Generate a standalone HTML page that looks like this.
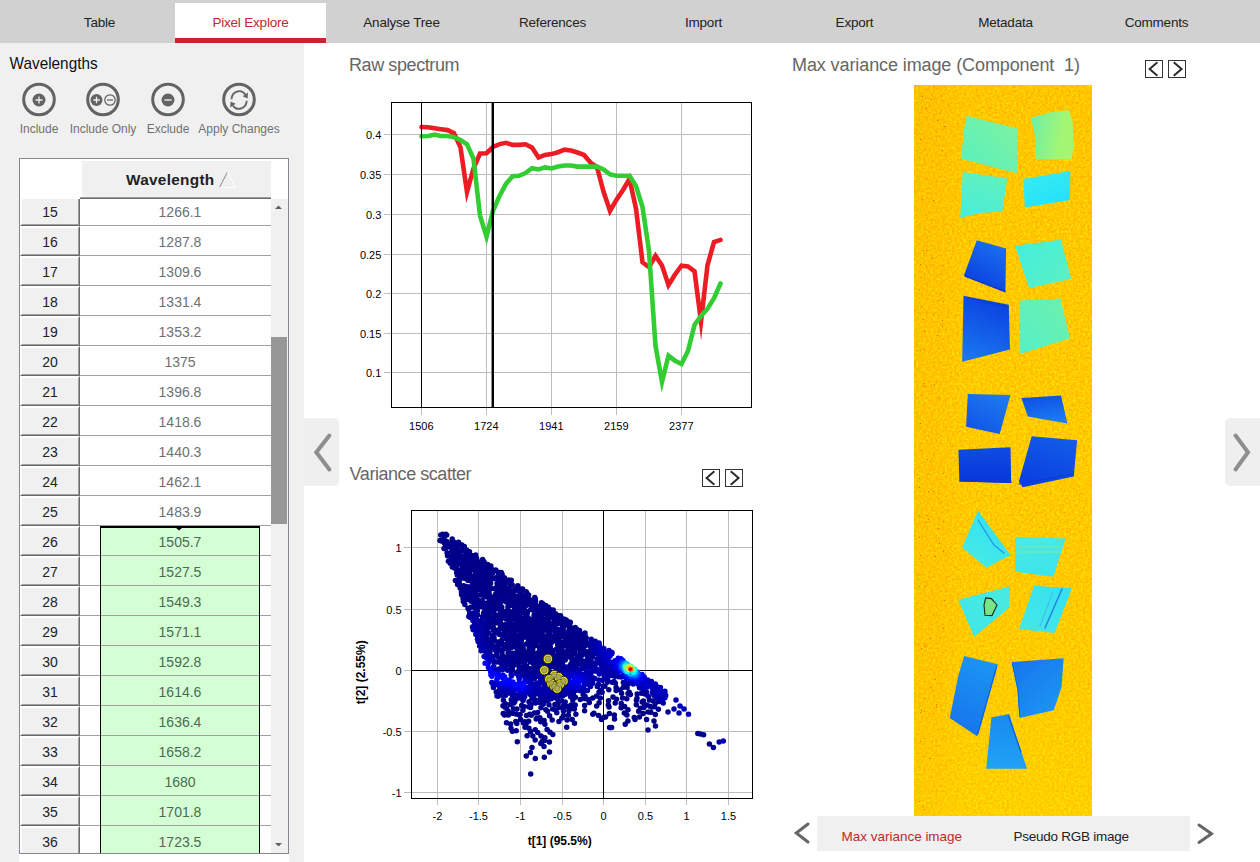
<!DOCTYPE html>
<html lang="en"><head><meta charset="utf-8"><title>Pixel Explore</title>
<style>
html,body{margin:0;padding:0}
body{width:1260px;height:862px;position:relative;overflow:hidden;background:#fff;
 font-family:"Liberation Sans",sans-serif;color:#222}
.a{position:absolute}
#tabbar{left:0;top:0;width:1260px;height:43px;background:#d1d1d1}
.tab{position:absolute;top:3px;height:40px;width:151px;text-align:center;font-size:13.5px;line-height:40px;color:#222;letter-spacing:-.2px}
.tab.on{background:#fff;color:#c4262e;border-bottom:5px solid #c4262e;height:35px;line-height:40px}
#side{left:0;top:43px;width:304px;height:819px;background:#f0f0f0}
#sidewhite{left:19px;top:854px;width:270px;height:8px;background:#fff}
.h1{position:absolute;font-size:17.33px;color:#666;white-space:nowrap;line-height:20px}
.lbl{position:absolute;font-size:12px;color:#707070;white-space:nowrap;line-height:14px;text-align:center}
#tbl{left:19px;top:158px;width:270px;height:696px;box-sizing:border-box;border:1px solid #828790;background:#fff;overflow:hidden}
.rh{position:absolute;left:0;width:60px;height:30px;box-sizing:border-box;border:1px solid;border-color:#fff #696969 #696969 #fff}
.rh i{display:block;box-sizing:border-box;width:58px;height:28px;border:1px solid;border-color:#fff #a0a0a0 #a0a0a0 #fff;background:#f0f0f0;
 font-style:normal;font-size:14px;line-height:29px;text-align:center;color:#222}
.c{position:absolute;left:60px;width:200px;height:30px;box-sizing:border-box;border-bottom:1px solid #a0a0a0;font-size:14px;line-height:33px;text-align:center;color:#707070}
.g{color:#4e6a4e}
#gbox{left:80px;top:367px;width:160px;height:340px;box-sizing:border-box;background:#d4ffd4;border:1px solid #000;border-top:2px solid #000}
#colh{left:62px;top:2px;width:189px;height:36px;background:#f0f0f0;font-weight:bold;font-size:15.33px;line-height:38px;color:#222}
#sb{left:251px;top:40px;width:17px;height:660px;background:#f0f0f0}
#thumb{left:251px;top:178px;width:16px;height:187px;background:#979797}
#strip{left:817px;top:816px;width:373px;height:35px;background:#f0f0f0}
.st{position:absolute;font-size:13.33px;line-height:16px;white-space:nowrap}
.hd{position:absolute;width:35px;height:68px;background:#efefef;top:418px}
</style></head><body>

<div id="tabbar" class="a">
<div class="tab" style="left:24px">Table</div>
<div class="tab on" style="left:175px">Pixel Explore</div>
<div class="tab" style="left:326px">Analyse Tree</div>
<div class="tab" style="left:477px">References</div>
<div class="tab" style="left:628px">Import</div>
<div class="tab" style="left:779px">Export</div>
<div class="tab" style="left:930px">Metadata</div>
<div class="tab" style="left:1081px">Comments</div>
</div>
<div id="side" class="a"></div><div id="sidewhite" class="a"></div>
<svg class="a" style="left:0;top:48px" width="200" height="30" viewBox="0 48 200 30"><text x="9.6" y="68.7" font-size="17" fill="#111" textLength="88" lengthAdjust="spacingAndGlyphs">Wavelengths</text></svg>
<div class="lbl" style="left:-21px;width:120px;top:122px">Include</div>
<div class="lbl" style="left:43px;width:120px;top:122px">Include Only</div>
<div class="lbl" style="left:108px;width:120px;top:122px">Exclude</div>
<div class="lbl" style="left:179px;width:120px;top:122px">Apply Changes</div>
<div id="tbl" class="a">
<div id="gbox" class="a"></div>
<div class="rh" style="top:37px"><i>15</i></div><div class="c" style="top:37px">1266.1</div>
<div class="rh" style="top:67px"><i>16</i></div><div class="c" style="top:67px">1287.8</div>
<div class="rh" style="top:97px"><i>17</i></div><div class="c" style="top:97px">1309.6</div>
<div class="rh" style="top:127px"><i>18</i></div><div class="c" style="top:127px">1331.4</div>
<div class="rh" style="top:157px"><i>19</i></div><div class="c" style="top:157px">1353.2</div>
<div class="rh" style="top:187px"><i>20</i></div><div class="c" style="top:187px">1375</div>
<div class="rh" style="top:217px"><i>21</i></div><div class="c" style="top:217px">1396.8</div>
<div class="rh" style="top:247px"><i>22</i></div><div class="c" style="top:247px">1418.6</div>
<div class="rh" style="top:277px"><i>23</i></div><div class="c" style="top:277px">1440.3</div>
<div class="rh" style="top:307px"><i>24</i></div><div class="c" style="top:307px">1462.1</div>
<div class="rh" style="top:337px"><i>25</i></div><div class="c" style="top:337px">1483.9</div>
<div class="rh" style="top:367px"><i>26</i></div><div class="c g" style="top:367px">1505.7</div>
<div class="rh" style="top:397px"><i>27</i></div><div class="c g" style="top:397px">1527.5</div>
<div class="rh" style="top:427px"><i>28</i></div><div class="c g" style="top:427px">1549.3</div>
<div class="rh" style="top:457px"><i>29</i></div><div class="c g" style="top:457px">1571.1</div>
<div class="rh" style="top:487px"><i>30</i></div><div class="c g" style="top:487px">1592.8</div>
<div class="rh" style="top:517px"><i>31</i></div><div class="c g" style="top:517px">1614.6</div>
<div class="rh" style="top:547px"><i>32</i></div><div class="c g" style="top:547px">1636.4</div>
<div class="rh" style="top:577px"><i>33</i></div><div class="c g" style="top:577px">1658.2</div>
<div class="rh" style="top:607px"><i>34</i></div><div class="c g" style="top:607px">1680</div>
<div class="rh" style="top:637px"><i>35</i></div><div class="c g" style="top:637px">1701.8</div>
<div class="rh" style="top:667px"><i>36</i></div><div class="c g" style="top:667px">1723.5</div>
<div class="a" style="left:80px;top:367px;width:1px;height:340px;background:#000"></div><div class="a" style="left:239px;top:367px;width:1px;height:340px;background:#000"></div>
<div class="a" style="left:0;top:0;width:268px;height:38px;background:#fff"></div>
<div id="colh" class="a"><span style="position:absolute;left:44px;letter-spacing:.3px">Wavelength</span></div>
<div class="a" style="left:60px;top:38px;width:191px;height:1px;background:#a0a0a0"></div><div class="a" style="left:60px;top:39px;width:191px;height:1px;background:#696969"></div>
<div class="a" style="left:0;top:38px;width:60px;height:2px;background:#fff"></div>
<div id="sb" class="a"></div><div id="thumb" class="a"></div>
<svg class="a" style="left:0;top:0" width="268" height="694" viewBox="20 159 268 694">
<path d="M219.5 187.5L227.5 172" stroke="#8a8a8a" stroke-width="1" fill="none"/><path d="M227.5 172L235.5 187.5H219.5" stroke="#fff" stroke-width="1" fill="none"/>
<path d="M275 209L278.5 205.5 282 209Z" fill="#606060"/><path d="M275 843L278.5 846.5 282 843Z" fill="#606060"/>
<path d="M175 527H183L179 530.5Z" fill="#000"/>
</svg>
</div>
<div class="hd" style="left:304px;border-radius:0 5px 5px 0"></div><div class="hd" style="left:1225px;border-radius:5px 0 0 5px"></div>
<div id="strip" class="a"></div>
<svg class="a" style="left:0;top:0" width="1260" height="862" viewBox="0 0 1260 862" font-family='"Liberation Sans", sans-serif'>
<defs>
<filter id="nz" x="0" y="0" width="100%" height="100%" color-interpolation-filters="sRGB">
<feTurbulence type="fractalNoise" baseFrequency="0.42" numOctaves="2" seed="4"/>
<feColorMatrix values="0 0 0 0 1  0.36 0 0 0 0.62  0 0 0 0 0  0 0 0 0 1"/><feGaussianBlur stdDeviation="0.5"/>
</filter>
<linearGradient id="bgv" x1="0" y1="0" x2="0" y2="1"><stop offset="0" stop-color="#ff9000" stop-opacity=".10"/><stop offset=".5" stop-color="#ffa000" stop-opacity=".03"/><stop offset="1" stop-color="#ffe400" stop-opacity=".22"/></linearGradient>
<linearGradient id="bgh" x1="0" y1="0" x2="1" y2="0"><stop offset="0" stop-color="#ff8000" stop-opacity=".08"/><stop offset=".14" stop-color="#ff8000" stop-opacity=".07"/><stop offset=".3" stop-color="#ff9000" stop-opacity="0"/></linearGradient>
</defs>
<g font-size="18" fill="#666">
<text x="349" y="71" textLength="110.5">Raw spectrum</text>
<text x="349.6" y="479.5" textLength="122">Variance scatter</text>
<text x="792" y="71" xml:space="preserve" textLength="288">Max variance image (Component  1)</text>
</g>
<g>
<circle cx="39" cy="99.5" r="15.3" fill="none" stroke="#636363" stroke-width="3"/><circle cx="39" cy="100.0" r="6.5" fill="#636363"/><path d="M35.5 100.0h7M39 96.5v7" stroke="#f0f0f0" stroke-width="1.3"/>
<circle cx="103" cy="99.5" r="15.3" fill="none" stroke="#636363" stroke-width="3"/><circle cx="96.5" cy="100.0" r="6" fill="#636363"/><path d="M93.3 100.0h6.4M96.5 96.8v6.4" stroke="#f0f0f0" stroke-width="1.3"/><circle cx="110" cy="100.0" r="5.2" fill="#f0f0f0" stroke="#636363" stroke-width="1.3"/><path d="M107 100.0h6" stroke="#636363" stroke-width="1.3"/>
<circle cx="168" cy="99.5" r="15.3" fill="none" stroke="#636363" stroke-width="3"/><circle cx="168" cy="100.0" r="6.5" fill="#636363"/><path d="M164.5 100.0h7" stroke="#f0f0f0" stroke-width="1.4"/>
<circle cx="239" cy="99.5" r="15.3" fill="none" stroke="#636363" stroke-width="3"/><g fill="none" stroke="#636363" stroke-width="1.8" stroke-linecap="butt"><path d="M231.5 99.2A7.7 8.3 0 0 1 245.4 94.6"/><path d="M246.7 100.8A7.7 8.3 0 0 1 232.8 105.4"/></g><path d="M242.6 96.2L248 92.4 247.6 98.6Z" fill="#636363"/><path d="M235.6 103.8L230.2 107.6 230.6 101.4Z" fill="#636363"/>
</g>
<g fill="none" stroke="#8e8e8e" stroke-width="4" stroke-linecap="round" stroke-linejoin="miter"><path d="M329.4 435.5L316.3 452.3 329.4 469.5"/><path d="M1235.5 435.5L1248 452.3 1235.5 469.5"/></g>
<g fill="none" stroke="#666" stroke-width="3" stroke-linecap="round" stroke-linejoin="miter"><path d="M808 824L796.3 833 808 842"/><path d="M1199 825L1211.5 833.7 1199 842.5"/></g>
<text x="841.6" y="840.7" font-size="13.5" fill="#c4262e" textLength="120.5">Max variance image</text>
<text x="1013.6" y="840.7" font-size="13.5" fill="#222" textLength="115.5">Pseudo RGB image</text>
<rect x="702.5" y="469.5" width="17" height="17" fill="#fff" stroke="#333" stroke-width="1"/><rect x="725.5" y="469.5" width="17" height="17" fill="#fff" stroke="#333" stroke-width="1"/><path d="M714.4 471.2L706.6 477.9 714.4 484.8M730.7 471.2L738.6 477.9 730.7 484.8" fill="none" stroke="#2a2a2a" stroke-width="2"/>
<rect x="1145.5" y="60.5" width="17" height="17" fill="#fff" stroke="#333" stroke-width="1"/><rect x="1168.5" y="60.5" width="17" height="17" fill="#fff" stroke="#333" stroke-width="1"/><path d="M1157.4 62.2L1149.6 68.9 1157.4 75.8M1173.7 62.2L1181.6 68.9 1173.7 75.8" fill="none" stroke="#2a2a2a" stroke-width="2"/>
<g shape-rendering="crispEdges">
<rect x="486" y="103" width="1" height="312" fill="#bdbdbd"/>
<rect x="551" y="103" width="1" height="312" fill="#bdbdbd"/>
<rect x="616" y="103" width="1" height="312" fill="#bdbdbd"/>
<rect x="681" y="103" width="1" height="312" fill="#bdbdbd"/>
<rect x="421" y="408" width="1" height="7" fill="#bdbdbd"/>
<rect x="384" y="134" width="367" height="1" fill="#bdbdbd"/>
<rect x="384" y="174" width="367" height="1" fill="#bdbdbd"/>
<rect x="384" y="214" width="367" height="1" fill="#bdbdbd"/>
<rect x="384" y="254" width="367" height="1" fill="#bdbdbd"/>
<rect x="384" y="293" width="367" height="1" fill="#bdbdbd"/>
<rect x="384" y="333" width="367" height="1" fill="#bdbdbd"/>
<rect x="384" y="372" width="367" height="1" fill="#bdbdbd"/>
</g>
<polyline points="421.5,127.0 428.0,127.2 434.5,128.2 441.0,129.2 447.5,130.1 454.0,133.2 460.5,147.4 467.0,192.0 473.5,168.5 480.0,153.5 486.5,153.2 493.0,147.0 499.5,144.1 506.0,142.8 512.5,144.9 519.0,144.9 525.5,144.3 532.0,147.6 538.5,157.4 545.0,154.9 551.5,154.1 558.0,152.2 564.5,149.7 571.0,150.5 577.5,152.5 584.0,154.9 590.5,162.6 597.0,167.1 603.5,191.5 610.0,211.0 616.5,199.6 623.0,190.0 629.5,179.0 636.0,208.7 642.5,262.3 649.0,267.2 655.5,255.8 662.0,265.6 668.5,285.0 675.0,274.5 681.5,265.6 688.0,266.4 694.5,271.3 701.0,321.5 707.5,265.3 714.0,242.0 720.5,239.9" fill="none" stroke="#ed1c24" stroke-width="4.6" stroke-linecap="round" stroke-linejoin="miter" stroke-miterlimit="10"/>
<polyline points="421.5,136.3 428.0,136.0 434.5,134.7 441.0,136.0 447.5,136.0 454.0,137.3 460.5,140.0 467.0,144.4 473.5,158.7 480.0,215.6 486.5,236.7 493.0,210.7 499.5,196.0 506.0,183.9 512.5,176.3 519.0,175.8 525.5,173.0 532.0,168.2 538.5,169.5 545.0,167.4 551.5,168.4 558.0,166.6 564.5,165.5 571.0,165.5 577.5,166.6 584.0,166.6 590.5,166.6 597.0,166.6 603.5,169.5 610.0,174.4 616.5,175.7 623.0,175.7 629.5,175.7 636.0,186.0 642.5,207.1 649.0,251.0 655.5,346.0 662.0,381.8 668.5,355.8 675.0,360.7 681.5,364.0 688.0,351.0 694.5,325.0 701.0,316.0 707.5,308.7 714.0,298.2 720.5,283.5" fill="none" stroke="#32cd32" stroke-width="4.6" stroke-linecap="round" stroke-linejoin="miter" stroke-miterlimit="10"/>
<g shape-rendering="crispEdges">
<rect x="421" y="103" width="1" height="305" fill="#000"/><rect x="492" y="103" width="2" height="305" fill="#000"/><rect x="491" y="103" width="1" height="305" fill="#000" opacity=".45"/>
<rect x="391.5" y="102.5" width="360" height="305" fill="none" stroke="#000" stroke-width="1"/>
</g>
<g font-size="11" fill="#000">
<text x="381.3" y="139" text-anchor="end">0.4</text>
<text x="381.3" y="179" text-anchor="end">0.35</text>
<text x="381.3" y="219" text-anchor="end">0.3</text>
<text x="381.3" y="259" text-anchor="end">0.25</text>
<text x="381.3" y="298" text-anchor="end">0.2</text>
<text x="381.3" y="338" text-anchor="end">0.15</text>
<text x="381.3" y="377" text-anchor="end">0.1</text>
<text x="421.3" y="430" text-anchor="middle">1506</text>
<text x="486.3" y="430" text-anchor="middle">1724</text>
<text x="551.3" y="430" text-anchor="middle">1941</text>
<text x="616.3" y="430" text-anchor="middle">2159</text>
<text x="681.3" y="430" text-anchor="middle">2377</text>
</g>
<g shape-rendering="crispEdges">
<rect x="437" y="511" width="1" height="294" fill="#bdbdbd"/>
<rect x="478" y="511" width="1" height="294" fill="#bdbdbd"/>
<rect x="520" y="511" width="1" height="294" fill="#bdbdbd"/>
<rect x="562" y="511" width="1" height="294" fill="#bdbdbd"/>
<rect x="645" y="511" width="1" height="294" fill="#bdbdbd"/>
<rect x="686" y="511" width="1" height="294" fill="#bdbdbd"/>
<rect x="728" y="511" width="1" height="294" fill="#bdbdbd"/>
<rect x="404" y="547" width="348" height="1" fill="#bdbdbd"/>
<rect x="404" y="609" width="348" height="1" fill="#bdbdbd"/>
<rect x="404" y="731" width="348" height="1" fill="#bdbdbd"/>
<rect x="404" y="792" width="348" height="1" fill="#bdbdbd"/>
<rect x="404" y="670" width="8" height="1" fill="#bdbdbd"/><rect x="603" y="799" width="1" height="6" fill="#bdbdbd"/>
</g>
<g shape-rendering="crispEdges"><rect x="603" y="511" width="1" height="288" fill="#000"/><rect x="412" y="670" width="340" height="1" fill="#000"/></g>
<g fill="none" stroke-width="5.5" stroke-linecap="round">
<path stroke="#00008a" d="M440.8 535.1h0M443.6 535.7h0M446.7 535.1h0M444.0 539.0h0M452.2 538.9h0M441.3 540.9h0M446.8 541.6h0M454.1 542.2h0M458.5 542.3h0M444.3 543.0h0M447.0 544.7h0M449.9 543.4h0M455.2 544.5h0M458.1 542.6h0M461.9 545.1h0M445.8 545.4h0M448.7 545.4h0M450.2 546.9h0M454.7 546.1h0M457.8 546.4h0M464.3 546.6h0M444.0 548.6h0M445.9 548.2h0M453.7 550.0h0M456.6 549.3h0M462.0 550.0h0M466.5 549.9h0M447.1 553.1h0M451.8 551.3h0M457.5 553.2h0M460.0 551.7h0M464.9 551.3h0M466.5 551.7h0M469.5 551.7h0M447.5 555.7h0M451.5 556.1h0M455.4 553.9h0M458.5 555.7h0M461.5 556.0h0M464.7 556.0h0M469.5 555.4h0M472.7 555.8h0M475.7 555.0h0M451.8 558.6h0M453.3 558.0h0M457.5 558.8h0M462.7 558.1h0M466.1 557.2h0M469.5 558.7h0M472.5 557.4h0M476.6 558.2h0M448.4 561.2h0M455.1 561.1h0M459.7 560.0h0M463.1 559.5h0M465.0 559.5h0M467.9 559.8h0M472.5 559.2h0M474.4 559.3h0M477.7 561.6h0M482.6 559.5h0M483.8 561.6h0M450.2 563.2h0M453.8 562.3h0M456.7 563.5h0M459.9 563.4h0M463.1 564.1h0M466.9 563.0h0M470.5 563.0h0M474.3 562.8h0M476.4 563.1h0M480.8 564.3h0M484.1 562.1h0M487.6 564.4h0M452.3 566.9h0M457.2 565.3h0M462.6 566.0h0M466.3 566.1h0M468.8 566.1h0M471.7 565.7h0M474.8 567.2h0M478.5 565.0h0M481.3 566.2h0M485.8 567.2h0M487.8 566.3h0M490.8 566.1h0M454.4 568.1h0M456.6 569.3h0M461.8 569.0h0M463.3 569.1h0M468.2 567.8h0M470.5 568.2h0M473.3 569.2h0M479.2 569.7h0M483.6 567.8h0M486.0 568.8h0M488.5 568.3h0M491.8 569.4h0M495.7 569.9h0M456.6 572.8h0M458.2 571.5h0M466.7 571.9h0M469.9 572.0h0M475.9 572.5h0M477.6 571.9h0M482.7 570.7h0M485.7 572.2h0M487.2 572.4h0M490.9 571.7h0M497.8 571.9h0M501.3 572.6h0M457.3 575.0h0M461.4 573.2h0M463.0 574.5h0M466.2 575.4h0M469.8 573.5h0M475.6 573.3h0M479.2 574.5h0M483.7 574.0h0M487.4 574.4h0M492.4 573.4h0M498.4 575.2h0M502.1 574.3h0M459.5 576.7h0M462.7 576.5h0M464.3 578.2h0M470.1 576.0h0M474.3 576.2h0M477.3 577.9h0M481.7 577.3h0M485.2 577.4h0M488.6 576.5h0M491.9 577.8h0M495.1 578.4h0M497.0 577.2h0M499.8 575.8h0M504.4 577.8h0M455.4 580.5h0M459.6 579.9h0M467.7 580.3h0M470.5 580.4h0M474.6 580.4h0M476.3 579.7h0M479.7 579.6h0M486.7 581.0h0M489.9 579.6h0M492.0 578.9h0M499.7 579.4h0M502.5 579.4h0M504.3 580.5h0M508.8 580.1h0M511.3 580.2h0M459.3 583.4h0M472.5 583.2h0M474.0 583.1h0M478.6 583.9h0M482.6 581.7h0M484.8 581.4h0M487.4 582.0h0M490.6 583.6h0M497.1 583.6h0M501.7 582.0h0M502.8 582.7h0M507.1 582.6h0M510.1 583.4h0M457.6 584.4h0M459.8 585.6h0M463.7 585.8h0M466.3 586.6h0M471.3 586.4h0M472.7 584.4h0M475.8 585.4h0M479.0 585.3h0M483.3 585.4h0M485.6 585.2h0M488.6 584.7h0M497.2 585.4h0M499.4 585.9h0M503.1 584.5h0M504.4 585.1h0M512.2 584.7h0M517.7 585.7h0M460.2 587.9h0M463.6 588.2h0M464.8 589.1h0M468.9 586.9h0M473.2 588.1h0M478.5 589.1h0M481.3 589.3h0M485.2 587.1h0M487.9 589.4h0M491.6 588.5h0M494.5 588.7h0M497.6 587.8h0M499.6 589.1h0M504.1 588.1h0M508.2 588.8h0M509.2 587.7h0M514.8 589.2h0M519.7 588.8h0M522.6 588.9h0M461.4 591.8h0M465.0 590.0h0M467.7 591.3h0M469.3 591.2h0M473.0 590.2h0M475.7 591.4h0M480.8 590.6h0M482.1 591.8h0M485.1 591.3h0M489.0 589.8h0M496.9 590.0h0M499.5 590.6h0M502.6 590.2h0M504.8 591.8h0M508.9 589.7h0M510.8 591.0h0M514.1 591.3h0M518.6 590.7h0M521.8 590.3h0M526.1 591.8h0M461.5 594.8h0M464.5 593.1h0M468.1 593.5h0M472.8 594.1h0M474.0 592.7h0M480.9 594.9h0M485.2 594.9h0M489.1 593.1h0M495.6 594.3h0M498.4 592.9h0M499.8 594.5h0M505.1 592.4h0M507.3 594.6h0M510.7 594.0h0M512.5 592.6h0M520.6 592.5h0M526.8 593.0h0M528.6 595.0h0M463.0 596.5h0M467.7 595.9h0M469.6 595.5h0M473.4 597.0h0M477.4 595.5h0M484.1 595.8h0M487.2 597.0h0M488.3 595.7h0M491.9 596.9h0M496.4 595.7h0M498.2 597.8h0M502.8 596.7h0M504.5 595.2h0M507.8 597.7h0M512.6 595.6h0M514.6 596.2h0M517.4 595.9h0M521.0 596.2h0M524.1 595.7h0M527.7 596.2h0M534.8 597.4h0M463.0 598.3h0M464.6 600.5h0M467.9 599.3h0M473.0 598.1h0M474.3 599.5h0M478.2 600.3h0M482.5 600.5h0M490.7 598.7h0M495.4 599.1h0M498.5 600.1h0M500.8 598.3h0M504.4 599.5h0M508.2 600.5h0M509.3 600.3h0M512.8 599.8h0M516.1 598.9h0M520.5 598.2h0M523.5 599.2h0M527.2 598.0h0M530.1 599.8h0M532.0 600.5h0M535.3 599.1h0M463.3 601.4h0M471.0 601.3h0M477.8 601.3h0M480.4 601.4h0M482.5 602.8h0M487.0 603.2h0M489.1 601.6h0M494.8 602.1h0M500.3 603.0h0M501.6 601.1h0M505.7 601.7h0M510.9 601.8h0M514.6 602.5h0M517.9 602.0h0M522.3 601.7h0M525.9 603.2h0M527.0 601.9h0M530.6 600.8h0M535.5 601.1h0M541.5 602.8h0M482.8 604.3h0M485.8 604.7h0M488.6 604.3h0M491.4 603.8h0M495.3 604.9h0M497.4 605.8h0M500.0 604.5h0M508.3 603.6h0M510.2 605.4h0M512.5 604.9h0M517.6 604.4h0M520.6 605.6h0M524.2 606.1h0M526.1 605.4h0M528.8 604.3h0M533.4 604.0h0M536.0 605.3h0M540.4 606.1h0M543.2 604.0h0M545.7 605.5h0M490.0 607.5h0M492.5 607.9h0M495.4 607.3h0M498.8 608.7h0M501.8 607.2h0M508.0 606.4h0M514.6 608.2h0M519.5 608.8h0M522.7 606.5h0M524.6 606.8h0M532.2 608.3h0M536.6 606.4h0M541.1 606.6h0M543.2 607.9h0M548.4 607.2h0M489.0 609.2h0M491.1 610.9h0M494.0 611.5h0M500.0 610.4h0M503.1 611.5h0M507.9 609.7h0M509.7 611.4h0M514.8 611.1h0M516.9 611.3h0M519.0 611.4h0M523.7 611.0h0M526.3 611.2h0M530.7 609.5h0M532.9 610.1h0M535.1 610.3h0M538.6 610.0h0M543.1 610.6h0M546.6 610.0h0M550.1 609.4h0M553.2 610.1h0M493.9 613.7h0M500.1 613.5h0M502.7 612.0h0M505.2 612.1h0M509.4 613.2h0M512.4 613.0h0M517.7 612.9h0M520.5 613.6h0M524.4 612.5h0M527.3 612.9h0M534.5 614.4h0M536.6 613.1h0M540.0 613.6h0M544.8 612.6h0M548.0 613.1h0M550.4 612.2h0M554.1 613.3h0M555.6 613.7h0M494.1 616.2h0M496.4 615.6h0M499.5 615.6h0M503.6 616.4h0M506.4 614.7h0M510.7 615.4h0M514.5 617.0h0M517.0 616.1h0M518.8 615.5h0M525.7 615.4h0M534.1 615.2h0M535.3 616.1h0M538.0 616.7h0M541.8 616.6h0M546.9 614.7h0M548.1 616.2h0M552.9 616.0h0M556.0 614.9h0M559.1 615.8h0M560.5 615.8h0M495.8 619.4h0M500.3 619.5h0M501.7 617.6h0M505.7 619.0h0M507.9 619.2h0M512.7 618.6h0M516.4 618.1h0M519.3 618.0h0M521.3 618.0h0M526.0 618.3h0M528.0 617.4h0M531.8 619.7h0M533.6 618.3h0M538.0 618.4h0M539.9 619.8h0M544.0 619.4h0M547.8 618.3h0M549.3 618.1h0M553.6 618.4h0M560.8 618.0h0M563.3 618.9h0M565.4 619.4h0M498.0 620.9h0M500.3 621.6h0M508.3 620.2h0M510.1 620.6h0M516.9 620.9h0M519.7 621.3h0M524.4 621.0h0M527.3 621.2h0M532.7 622.4h0M535.8 622.1h0M538.3 621.5h0M543.5 622.5h0M548.7 622.5h0M556.3 620.4h0M559.0 620.2h0M566.9 620.7h0M570.3 622.3h0M498.9 622.9h0M504.6 624.8h0M508.8 623.6h0M513.2 623.9h0M516.2 623.2h0M517.2 624.8h0M522.1 624.4h0M523.9 624.3h0M527.7 623.4h0M531.4 624.9h0M534.7 625.3h0M537.8 623.8h0M540.5 623.2h0M544.5 625.3h0M547.6 625.4h0M550.3 624.1h0M553.1 623.2h0M557.6 623.6h0M561.0 623.3h0M563.2 623.8h0M567.7 624.1h0M569.9 623.4h0M500.4 626.1h0M503.5 627.5h0M506.2 627.8h0M509.5 627.8h0M512.9 628.1h0M516.1 625.7h0M520.8 625.9h0M523.9 627.3h0M527.7 626.5h0M530.7 626.5h0M533.3 627.9h0M535.4 626.3h0M538.3 627.9h0M541.7 627.5h0M544.6 627.7h0M548.3 625.9h0M552.7 626.9h0M554.3 626.0h0M562.3 625.9h0M563.7 626.3h0M569.0 626.8h0M570.0 626.6h0M575.2 627.5h0M501.7 628.6h0M504.4 630.4h0M508.2 629.6h0M511.2 628.9h0M515.1 630.3h0M519.2 630.0h0M521.3 629.9h0M526.0 630.2h0M528.4 628.7h0M534.3 630.7h0M538.2 629.2h0M541.3 629.2h0M543.6 630.4h0M548.0 631.0h0M551.7 628.5h0M552.4 629.9h0M557.5 629.3h0M560.7 629.9h0M563.2 628.6h0M569.0 630.2h0M573.2 629.6h0M576.4 629.0h0M579.5 630.4h0M499.6 633.7h0M504.8 632.5h0M510.4 631.4h0M514.1 632.3h0M520.5 633.1h0M521.9 633.6h0M526.6 633.4h0M528.4 633.6h0M531.6 631.6h0M536.6 631.8h0M540.2 633.0h0M541.4 632.3h0M550.1 631.5h0M555.7 632.5h0M557.5 632.6h0M560.6 633.5h0M564.2 631.9h0M568.4 632.7h0M571.2 632.6h0M573.7 631.3h0M577.1 631.6h0M579.6 633.6h0M585.0 633.0h0M502.7 636.3h0M505.0 635.5h0M509.5 634.4h0M511.8 636.4h0M514.4 634.3h0M518.0 635.0h0M521.3 635.2h0M525.5 636.4h0M529.1 634.7h0M531.3 635.8h0M533.8 634.4h0M537.2 635.8h0M540.9 634.5h0M543.6 635.8h0M545.9 635.9h0M549.3 634.7h0M554.4 635.4h0M556.1 634.8h0M559.6 636.1h0M563.7 636.3h0M565.4 634.1h0M569.0 635.4h0M573.0 635.1h0M577.3 636.0h0M578.0 636.6h0M583.3 634.3h0M504.8 638.2h0M507.3 637.8h0M512.7 638.5h0M517.6 638.6h0M518.8 636.8h0M523.9 637.2h0M527.1 637.2h0M530.6 638.7h0M532.7 637.5h0M536.7 638.5h0M539.8 638.0h0M542.0 639.1h0M545.5 638.2h0M553.0 638.6h0M556.1 637.2h0M559.0 638.9h0M563.8 637.0h0M567.5 637.5h0M570.1 639.1h0M574.6 637.9h0M577.9 637.7h0M582.0 638.7h0M582.9 637.1h0M509.4 639.9h0M512.8 641.8h0M514.4 639.6h0M521.4 640.2h0M528.5 639.8h0M531.0 642.1h0M533.9 640.8h0M537.3 641.4h0M544.3 640.7h0M546.2 641.5h0M550.1 639.9h0M554.3 640.8h0M557.3 641.1h0M559.2 640.8h0M564.2 642.1h0M566.0 640.1h0M570.2 640.2h0M574.1 640.6h0M575.8 641.2h0M578.4 640.4h0M581.3 640.3h0M507.5 642.9h0M510.1 643.0h0M514.5 644.0h0M515.9 643.0h0M518.9 643.1h0M523.2 644.7h0M526.8 643.8h0M529.3 642.3h0M535.3 644.0h0M541.8 643.3h0M544.3 643.0h0M548.3 643.4h0M551.5 642.4h0M557.7 644.7h0M560.8 644.5h0M563.8 643.6h0M567.0 643.1h0M571.7 644.0h0M578.5 644.6h0M579.7 644.3h0M583.6 642.8h0M506.2 646.1h0M508.2 647.5h0M511.4 647.4h0M514.6 646.4h0M517.4 645.6h0M520.5 646.2h0M529.0 646.0h0M531.1 647.4h0M533.8 645.5h0M536.4 645.5h0M541.0 647.3h0M546.6 647.5h0M550.4 646.7h0M557.8 645.5h0M559.1 646.4h0M563.1 646.3h0M567.0 646.5h0M570.5 647.5h0M574.1 645.3h0M575.9 645.8h0M580.3 645.5h0M583.6 647.4h0M584.6 646.3h0M506.3 648.8h0M517.2 649.4h0M520.1 650.2h0M523.2 648.6h0M529.2 648.4h0M532.8 649.1h0M539.7 649.4h0M542.4 648.0h0M547.8 650.2h0M551.1 649.7h0M556.1 649.5h0M557.3 649.1h0M561.2 648.2h0M568.1 650.3h0M572.2 648.1h0M573.6 648.7h0M577.5 648.0h0M581.2 650.2h0M582.9 650.1h0M509.0 652.6h0M512.7 653.2h0M516.0 653.1h0M518.5 652.8h0M521.9 652.4h0M524.4 651.5h0M528.7 651.4h0M530.1 650.8h0M533.3 653.1h0M537.3 652.9h0M541.1 651.8h0M545.2 651.4h0M547.1 651.0h0M550.4 652.7h0M552.5 653.1h0M557.8 650.8h0M559.1 651.3h0M563.9 651.8h0M566.1 652.0h0M570.8 651.1h0M572.9 651.5h0M574.8 652.4h0M580.3 651.4h0M510.3 654.0h0M512.5 654.9h0M517.3 653.9h0M520.3 655.3h0M522.7 655.2h0M527.4 655.5h0M529.9 654.1h0M534.0 655.9h0M536.8 655.2h0M540.0 654.6h0M543.2 655.1h0M548.7 653.7h0M550.9 655.7h0M554.2 655.4h0M558.2 655.0h0M562.8 654.7h0M564.7 654.5h0M567.0 655.2h0M571.9 654.8h0M573.4 653.6h0M516.2 658.1h0M518.5 656.2h0M521.9 656.5h0M524.8 657.9h0M532.0 658.5h0M534.9 658.4h0M536.5 658.4h0M541.6 658.0h0M545.0 658.3h0M548.4 657.7h0M550.8 657.2h0M553.6 656.7h0M560.5 657.5h0M563.6 656.2h0M526.9 659.3h0M529.1 659.9h0M538.3 660.6h0M545.1 659.3h0M613.0 697.1h0M622.6 698.0h0M608.5 700.7h0M616.6 699.2h0M626.8 698.7h0M636.4 700.3h0M642.1 701.9h0M643.3 701.1h0M596.7 706.1h0M599.1 702.7h0M608.3 705.0h0M615.2 703.0h0M621.2 703.6h0M624.6 706.5h0M636.3 704.7h0M644.4 705.6h0M647.0 704.9h0M650.4 706.5h0M574.3 708.9h0M609.0 707.1h0M621.1 707.8h0M628.0 709.8h0M640.3 708.3h0M643.9 707.5h0M651.8 707.0h0M503.2 713.4h0M508.3 711.6h0M512.5 713.2h0M515.9 713.9h0M520.1 714.6h0M529.8 714.2h0M556.8 712.8h0M563.4 711.1h0M568.9 710.7h0M575.9 714.2h0M584.6 710.8h0M592.8 714.2h0M593.9 713.2h0M609.4 713.5h0M624.3 713.1h0M638.6 711.2h0M643.1 713.6h0M648.2 712.0h0M650.8 712.3h0M655.3 714.4h0M504.4 714.9h0M508.5 715.1h0M519.2 715.0h0M526.5 715.6h0M531.2 715.3h0M537.0 717.9h0M539.9 717.8h0M549.6 715.7h0M561.9 718.1h0M563.4 715.6h0M568.4 715.2h0M598.6 715.6h0M603.6 717.6h0M605.6 717.0h0M626.9 714.9h0M634.2 717.5h0M639.4 717.0h0M506.5 722.7h0M515.8 721.5h0M520.6 719.5h0M524.9 721.7h0M528.7 721.3h0M536.2 718.9h0M540.7 721.8h0M544.1 720.4h0M552.2 719.9h0M558.9 721.4h0M567.1 719.9h0M572.2 719.4h0M614.5 718.9h0M627.9 721.1h0M646.6 719.4h0M654.0 721.1h0M510.6 724.1h0M516.8 723.5h0M523.5 723.0h0M526.1 723.6h0M544.9 724.3h0M574.5 723.2h0M625.2 724.3h0M511.0 728.2h0M516.2 730.7h0M525.0 727.2h0M528.9 728.3h0M535.3 729.8h0M547.1 729.6h0M611.6 727.6h0M512.4 731.2h0M530.5 731.6h0M537.7 732.5h0M550.0 732.3h0M527.1 735.7h0M532.8 735.9h0M541.0 736.0h0M544.9 737.8h0M535.2 739.9h0M542.1 741.6h0M549.4 742.0h0M540.8 743.5h0M544.0 746.5h0M532.0 747.6h0M530.4 752.5h0M530.7 774.0h0M442.5 534.3h0M445.8 534.2h0M440.0 540.5h0M655.5 726.0h0M648.0 730.0h0M635.0 719.5h0M614.3 714.9h0M601.5 719.5h0M609.6 727.6h0M566.7 727.2h0M552.8 734.6h0M544.6 740.4h0M535.3 758.6h0M526.3 756.0h0M517.3 741.8h0M549.5 752.0h0M544.3 757.3h0"/>
<path stroke="#00008f" d="M474.0 602.5h0M464.9 604.4h0M474.1 605.4h0M478.3 604.6h0M468.1 608.4h0M470.9 607.2h0M473.7 607.3h0M475.8 608.6h0M478.8 607.1h0M483.2 607.2h0M486.0 607.7h0M468.7 609.4h0M476.5 610.5h0M477.4 610.7h0M484.7 609.3h0M483.6 612.9h0M486.4 614.3h0M488.7 612.6h0M485.7 616.9h0M487.2 616.6h0M490.2 617.0h0M486.7 617.7h0M489.1 618.1h0M493.9 619.6h0M488.4 621.9h0M490.0 621.3h0M490.5 623.7h0M492.5 623.0h0M495.7 623.0h0M490.6 627.0h0M493.5 627.9h0M493.2 630.3h0M497.1 630.6h0M498.1 629.9h0M495.1 633.1h0M498.1 632.3h0M492.6 635.6h0M499.4 634.5h0M585.2 636.3h0M492.1 638.8h0M494.0 637.5h0M586.2 637.9h0M493.7 640.1h0M494.8 640.9h0M498.3 641.9h0M501.6 640.6h0M586.2 641.2h0M501.4 644.2h0M503.2 644.2h0M496.4 646.6h0M498.8 645.2h0M496.9 648.0h0M499.6 650.1h0M503.6 649.0h0M498.1 650.8h0M502.0 651.9h0M581.9 652.0h0M586.0 651.7h0M588.3 651.8h0M502.1 655.1h0M502.7 655.9h0M508.1 653.5h0M578.6 655.7h0M581.4 655.5h0M584.9 653.9h0M587.2 655.3h0M589.9 655.7h0M502.3 657.4h0M504.5 657.5h0M509.0 656.8h0M511.3 658.5h0M557.7 658.4h0M567.6 656.7h0M568.5 656.8h0M571.6 658.3h0M577.0 656.8h0M578.9 657.3h0M504.2 660.2h0M507.3 659.7h0M509.7 659.0h0M514.6 660.8h0M516.8 660.5h0M519.9 660.3h0M524.2 660.3h0M532.3 661.5h0M535.7 660.8h0M542.1 661.2h0M548.6 659.9h0M552.6 661.3h0M555.9 659.4h0M557.1 659.5h0M560.8 660.2h0M565.2 660.0h0M572.1 660.9h0M573.9 659.6h0M576.7 661.5h0M580.9 659.1h0M510.0 662.8h0M517.9 663.1h0M520.4 662.0h0M524.6 662.0h0M530.4 661.9h0M537.7 662.6h0M541.3 663.3h0M543.8 663.1h0M547.4 662.0h0M551.7 662.8h0M554.3 663.8h0M556.5 663.6h0M560.3 661.8h0M562.4 662.6h0M570.8 664.2h0M576.9 661.8h0M510.6 665.8h0M513.7 665.3h0M518.0 664.6h0M519.1 666.4h0M524.1 666.2h0M526.6 666.0h0M533.9 664.7h0M537.1 666.2h0M539.5 666.4h0M541.7 664.7h0M545.5 664.8h0M548.2 665.2h0M552.3 666.4h0M555.0 665.7h0M558.0 666.5h0M561.1 666.3h0M521.3 668.1h0M526.0 668.2h0M529.3 668.4h0M530.7 669.1h0M534.3 669.5h0M537.4 669.3h0M541.5 669.1h0M546.9 667.3h0M550.0 667.3h0M503.4 700.3h0M608.8 689.7h0M616.1 687.5h0M620.1 689.9h0M623.4 687.3h0M627.1 687.4h0M599.0 692.3h0M602.1 692.2h0M616.1 690.6h0M621.6 693.3h0M628.0 693.4h0M629.2 692.2h0M637.2 693.9h0M641.5 693.2h0M592.8 697.9h0M596.6 696.1h0M600.3 698.1h0M630.4 694.6h0M637.0 698.3h0M565.2 701.9h0M572.8 700.1h0M580.3 699.6h0M584.6 698.5h0M588.0 699.4h0M649.4 699.9h0M653.1 701.0h0M503.0 705.8h0M505.4 703.7h0M510.2 704.4h0M513.9 702.9h0M521.7 705.6h0M523.9 706.4h0M531.1 704.8h0M543.2 704.3h0M549.0 704.8h0M554.9 704.6h0M558.2 703.2h0M563.7 705.5h0M566.7 706.4h0M571.0 704.9h0M575.2 705.1h0M584.6 705.5h0M589.3 702.6h0M655.4 703.1h0M505.0 707.2h0M506.8 708.9h0M513.4 708.8h0M517.0 708.9h0M522.9 710.2h0M528.6 706.8h0M530.5 707.4h0M540.9 707.8h0M545.9 709.7h0M552.7 709.0h0M555.5 709.9h0M559.1 707.5h0M563.4 707.3h0M570.6 708.4h0M654.5 706.7h0M658.4 709.3h0M534.3 713.1h0M537.6 712.6h0M547.5 711.3h0M697.8 733.4h0M709.4 743.9h0M713.4 747.4h0M668.0 712.0h0"/>
<path stroke="#000094" d="M469.7 613.6h0M473.5 613.1h0M477.6 615.0h0M482.7 616.8h0M485.4 622.0h0M485.7 625.1h0M485.6 626.1h0M487.1 629.6h0M485.9 631.5h0M488.7 633.2h0M490.5 640.6h0M491.8 643.8h0M588.0 644.5h0M492.6 646.6h0M495.3 650.2h0M496.7 652.3h0M496.7 655.1h0M496.7 656.2h0M499.3 658.0h0M589.6 656.8h0M592.5 656.7h0M501.8 661.0h0M583.8 661.5h0M587.4 659.1h0M500.3 662.6h0M501.5 662.3h0M506.1 664.2h0M573.7 664.2h0M579.6 663.7h0M581.3 663.1h0M586.1 662.2h0M506.6 665.0h0M563.5 666.3h0M567.6 667.1h0M570.7 666.5h0M577.0 665.5h0M512.3 667.3h0M519.0 669.9h0M545.1 669.7h0M556.4 669.3h0M520.4 671.6h0M523.6 671.3h0M527.3 670.8h0M530.1 672.5h0M532.6 671.1h0M535.6 672.1h0M539.1 670.8h0M543.1 670.3h0M544.8 671.7h0M548.1 670.6h0M528.1 672.9h0M497.0 696.1h0M498.2 696.3h0M511.2 699.8h0M512.4 700.1h0M557.7 699.7h0M512.9 700.6h0M540.0 701.2h0M544.1 701.3h0M547.8 701.1h0M614.1 681.6h0M603.1 686.0h0M612.1 682.2h0M615.4 683.2h0M600.7 690.2h0M604.9 686.2h0M644.9 694.1h0M575.4 697.2h0M583.1 694.6h0M585.1 696.5h0M648.3 696.2h0M514.8 701.4h0M529.0 701.7h0M538.0 701.7h0M561.4 700.8h0M535.6 702.9h0M540.2 702.7h0M700.5 734.0h0M703.6 734.8h0"/>
<path stroke="#000099" d="M468.8 616.5h0M472.9 616.9h0M475.0 615.4h0M481.5 620.5h0M482.2 623.3h0M483.9 630.8h0M486.0 636.5h0M487.6 638.6h0M487.7 641.4h0M489.0 643.1h0M489.3 646.1h0M589.5 645.6h0M491.2 648.8h0M590.9 648.3h0M592.6 652.3h0M593.4 654.0h0M591.0 661.1h0M496.8 662.0h0M590.0 662.4h0M501.9 666.4h0M505.2 667.0h0M573.5 666.9h0M504.7 667.7h0M564.1 669.2h0M566.6 669.4h0M569.5 668.5h0M573.4 668.1h0M510.9 670.4h0M512.4 670.3h0M517.8 672.4h0M551.6 672.4h0M556.0 671.1h0M557.6 671.2h0M560.5 671.1h0M531.6 673.1h0M534.0 673.8h0M538.5 674.7h0M540.9 675.4h0M544.3 673.0h0M546.0 673.1h0M496.3 692.0h0M499.7 693.2h0M502.4 695.3h0M505.6 695.2h0M562.6 696.0h0M570.6 696.8h0M517.5 698.3h0M535.1 699.8h0M539.9 700.1h0M541.6 698.7h0M545.2 700.2h0M549.1 698.4h0M551.4 698.8h0M556.1 698.1h0M534.4 700.7h0M607.9 680.9h0M607.3 682.3h0M623.3 682.6h0M597.3 686.6h0M523.1 700.5h0M658.9 701.4h0"/>
<path stroke="#00009e" d="M470.5 617.4h0M476.9 619.6h0M478.7 621.8h0M480.2 623.5h0M481.6 626.7h0M482.6 631.8h0M484.0 634.5h0M484.8 638.7h0M591.3 639.3h0M488.1 648.4h0M489.9 652.0h0M493.0 656.5h0M596.9 659.2h0M593.2 663.5h0M584.3 666.4h0M589.4 664.5h0M575.7 669.0h0M582.1 668.2h0M585.9 667.3h0M507.6 670.2h0M565.7 670.8h0M516.3 673.5h0M522.6 674.7h0M526.0 675.1h0M549.6 674.8h0M552.7 675.2h0M615.3 675.4h0M529.2 676.9h0M532.6 677.5h0M534.8 676.5h0M538.5 676.6h0M542.0 676.0h0M613.1 675.8h0M615.0 676.2h0M639.5 687.8h0M499.1 691.0h0M643.1 689.8h0M646.5 692.0h0M503.1 692.3h0M565.4 694.3h0M573.4 693.7h0M512.3 695.2h0M513.9 696.4h0M540.7 697.3h0M544.3 697.0h0M548.4 697.5h0M554.1 696.5h0M557.5 695.8h0M560.4 695.3h0M520.4 697.8h0M523.7 698.2h0M532.0 697.9h0M598.4 684.5h0M626.2 682.4h0M584.8 690.8h0M587.4 690.6h0M663.2 703.1h0"/>
<path stroke="#0000a3" d="M473.4 619.5h0M472.9 620.4h0M477.2 623.4h0M479.1 628.2h0M478.8 628.9h0M479.6 632.1h0M480.2 634.8h0M482.4 637.7h0M483.3 640.3h0M595.3 641.2h0M484.6 644.3h0M591.5 643.0h0M485.4 645.6h0M593.7 650.2h0M486.8 651.6h0M594.1 650.9h0M490.0 655.3h0M493.7 661.2h0M599.2 661.3h0M493.8 661.9h0M597.3 662.4h0M593.7 665.1h0M595.5 664.6h0M502.7 669.6h0M580.2 669.7h0M589.9 667.4h0M566.8 671.8h0M573.8 670.7h0M518.4 675.2h0M557.2 675.4h0M559.9 674.9h0M563.7 673.0h0M611.3 674.8h0M523.9 676.2h0M526.2 677.4h0M548.9 677.0h0M552.3 677.9h0M554.1 676.1h0M609.1 676.0h0M618.8 676.8h0M534.3 678.8h0M546.8 678.4h0M629.3 683.3h0M493.4 687.4h0M506.4 691.9h0M559.9 692.0h0M562.9 692.0h0M509.3 692.9h0M554.0 694.6h0M559.6 693.3h0M561.9 692.4h0M568.5 692.5h0M571.2 692.3h0M517.8 695.3h0M520.7 696.7h0M524.7 696.5h0M531.7 695.3h0M533.6 696.2h0M551.2 695.3h0M654.0 695.6h0M656.4 697.4h0M602.3 680.2h0M607.1 678.4h0M584.9 690.1h0M590.5 686.6h0"/>
<path stroke="#0000a8" d="M474.4 625.1h0M474.7 627.2h0M478.0 629.9h0M480.8 642.1h0M481.7 644.3h0M594.1 642.9h0M599.1 643.0h0M593.3 645.1h0M594.1 647.0h0M482.4 649.1h0M484.3 648.5h0M484.1 650.8h0M488.3 654.8h0M597.3 654.3h0M490.1 657.2h0M599.3 658.2h0M491.6 659.5h0M602.6 662.7h0M601.0 664.7h0M499.0 668.9h0M607.9 669.8h0M572.0 671.9h0M608.7 672.3h0M613.4 672.0h0M566.9 673.8h0M605.7 674.8h0M607.5 673.0h0M558.7 677.5h0M561.1 677.4h0M604.2 676.0h0M605.8 676.6h0M531.3 679.3h0M540.6 680.3h0M544.0 680.1h0M549.5 679.9h0M554.2 678.6h0M598.8 680.0h0M592.8 683.2h0M626.3 681.2h0M633.2 683.9h0M501.8 690.2h0M566.3 690.5h0M568.7 690.7h0M579.9 690.5h0M581.3 690.0h0M514.0 692.9h0M530.3 694.4h0M532.7 693.6h0M535.4 693.5h0M538.0 694.1h0M542.7 692.9h0M545.6 693.0h0M547.5 692.5h0M550.9 693.2h0M654.4 694.8h0M660.2 699.0h0M719.2 742.0h0M674.0 709.0h0M679.0 713.0h0"/>
<path stroke="#0000ad" d="M472.5 627.1h0M473.1 629.7h0M476.3 632.1h0M475.8 634.6h0M477.5 638.9h0M478.1 641.6h0M479.7 643.6h0M595.8 644.4h0M479.6 645.9h0M481.1 650.8h0M602.6 661.5h0M605.0 664.1h0M603.2 665.9h0M606.8 666.9h0M592.2 669.9h0M595.8 669.2h0M597.4 669.5h0M602.2 667.8h0M604.8 668.2h0M612.4 669.6h0M499.9 670.1h0M586.2 671.8h0M591.2 671.1h0M594.6 670.9h0M597.0 671.2h0M603.2 671.4h0M605.1 672.1h0M511.1 674.5h0M569.5 673.2h0M599.3 674.0h0M616.4 673.2h0M518.7 676.3h0M593.5 677.9h0M621.4 677.1h0M528.3 679.5h0M557.4 680.6h0M560.6 679.3h0M592.4 680.5h0M594.7 678.5h0M537.1 682.9h0M539.8 682.7h0M542.9 683.1h0M544.9 683.6h0M548.6 683.5h0M551.6 681.6h0M555.2 681.5h0M559.0 681.2h0M533.3 684.5h0M538.5 684.7h0M544.3 686.4h0M548.3 684.8h0M551.4 684.6h0M554.7 684.4h0M589.0 684.7h0M640.3 686.1h0M535.8 687.8h0M542.8 688.5h0M544.9 686.8h0M549.3 687.7h0M555.2 689.1h0M558.3 687.3h0M562.0 688.6h0M642.4 687.4h0M660.4 687.6h0M512.4 691.9h0M531.7 690.9h0M534.4 690.4h0M537.9 690.3h0M539.9 689.9h0M543.9 691.5h0M547.1 690.0h0M550.7 690.5h0M552.8 690.0h0M556.3 689.7h0M571.8 690.7h0M576.3 690.3h0M652.4 692.4h0"/>
<path stroke="#0000b3" d="M596.3 649.6h0M609.0 650.4h0M597.6 651.1h0M612.0 652.4h0M485.9 655.6h0M493.7 666.4h0M576.4 672.5h0M600.5 672.2h0M588.1 673.7h0M590.8 674.0h0M565.9 676.0h0M530.0 681.7h0M531.9 683.6h0M561.4 683.0h0M590.2 681.5h0M557.5 685.4h0M559.8 685.1h0M562.6 686.2h0M655.3 684.1h0M499.6 687.2h0M502.9 688.0h0M530.8 688.8h0M532.3 687.1h0M563.7 687.4h0M579.6 689.1h0M508.8 690.5h0M664.9 691.3h0M522.4 693.6h0M526.3 692.9h0M659.6 697.3h0M662.5 699.5h0M676.0 700.0h0"/>
<path stroke="#0000b8" d="M599.5 645.7h0M603.8 648.5h0M600.0 653.4h0M604.3 658.1h0M605.5 659.9h0M608.5 662.9h0M612.3 666.9h0M496.6 669.8h0M577.1 673.1h0M585.5 675.0h0M587.8 676.8h0M589.2 676.2h0M563.7 679.4h0M588.9 680.8h0M587.8 681.7h0M651.5 681.6h0M493.0 684.2h0M637.8 684.1h0M643.5 686.4h0M583.4 686.7h0M645.3 687.1h0M657.7 687.0h0M528.4 691.0h0M656.3 693.9h0M663.4 698.0h0M723.3 741.1h0"/>
<path stroke="#0000bd" d="M601.2 653.0h0M608.5 652.1h0M602.6 654.8h0M484.1 656.4h0M488.4 659.3h0M610.7 664.8h0M498.0 671.0h0M571.8 674.7h0M579.6 673.3h0M582.5 674.4h0M511.5 676.1h0M626.5 679.1h0M530.0 686.0h0M584.8 684.6h0M568.7 687.7h0M647.2 686.9h0M652.5 688.8h0M653.6 689.7h0M662.3 692.0h0M660.0 692.6h0M665.3 694.7h0M662.9 697.2h0M665.7 695.5h0M664.9 697.7h0M688.5 714.2h0M680.0 706.0h0M684.0 709.0h0"/>
<path stroke="#0000c2" d="M599.9 648.6h0M604.1 651.1h0M611.6 654.1h0M486.4 657.8h0M608.6 661.0h0M525.0 680.6h0M566.2 679.6h0M585.8 678.6h0M629.7 680.2h0M647.7 680.1h0M491.8 682.4h0M494.2 683.5h0M526.6 681.5h0M631.8 681.4h0M639.3 683.5h0M496.7 684.5h0M567.4 686.0h0M650.2 685.7h0M652.5 685.7h0M505.9 687.4h0M655.0 688.4h0M658.1 691.7h0M520.3 692.2h0"/>
<path stroke="#0000c7" d="M605.6 653.6h0M608.7 655.6h0M607.1 656.8h0M611.4 662.5h0M615.1 668.3h0M617.1 670.2h0M618.3 671.7h0M568.5 677.9h0M519.2 679.1h0M641.4 683.3h0M648.1 681.7h0M498.0 684.3h0M646.6 684.8h0M510.7 688.6h0M570.9 686.7h0M577.0 687.7h0"/>
<path stroke="#0000cc" d="M609.9 656.3h0M571.9 675.9h0M584.4 682.5h0M636.2 681.9h0M502.9 685.5h0M527.7 687.5h0M524.2 691.4h0"/>
<path stroke="#0000d1" d="M488.5 662.8h0M613.2 663.4h0M491.8 668.4h0M493.5 670.8h0M622.8 675.4h0M582.9 677.7h0M644.1 681.2h0M573.7 686.4h0M578.9 686.2h0M519.1 690.5h0M520.4 690.7h0"/>
<path stroke="#0000d6" d="M502.8 674.9h0M576.8 676.3h0M625.0 676.5h0M644.2 677.0h0M568.7 680.7h0M643.8 679.8h0M568.9 682.1h0M575.4 686.3h0M614.7 664.4h0"/>
<path stroke="#0000db" d="M618.2 658.2h0M617.8 669.2h0M581.4 677.9h0M516.7 689.1h0"/>
<path stroke="#0000e0" d="M615.0 660.8h0M574.0 677.4h0M637.6 680.8h0M501.0 683.5h0M513.4 687.5h0"/>
<path stroke="#0000e6" d="M620.9 658.8h0M633.4 679.6h0M523.9 683.0h0"/>
<path stroke="#0000eb" d="M617.2 666.5h0M498.0 674.5h0M642.0 674.6h0M504.6 676.7h0M572.3 682.1h0M578.4 683.2h0M580.1 681.3h0M504.8 684.0h0M508.4 684.9h0"/>
<path stroke="#0000f0" d="M619.9 659.5h0M576.2 679.0h0M578.4 680.2h0M573.5 682.2h0M520.2 688.4h0M629.4 677.9h0"/>
<path stroke="#0000f5" d="M488.4 667.6h0M490.6 671.4h0M496.9 675.1h0M523.2 688.4h0M618.2 660.7h0"/>
<path stroke="#0000fa" d="M617.4 663.1h0M492.0 673.9h0M500.6 676.6h0M629.8 677.6h0M639.1 678.4h0M519.3 682.8h0M629.8 677.6h0M634.3 679.0h0"/>
<path stroke="#0000ff" d="M485.1 663.3h0M490.9 674.7h0M640.6 676.7h0M496.9 679.6h0M503.4 678.5h0M509.2 680.0h0M504.7 681.8h0M506.6 682.7h0M509.2 683.3h0M513.0 684.6h0M523.8 685.4h0M619.5 668.8h0M618.4 662.4h0"/>
<path stroke="#0005ff" d="M491.9 676.3h0M498.6 677.3h0M505.5 679.8h0M512.9 681.9h0M515.4 684.6h0M517.8 684.7h0M522.1 685.7h0"/>
<path stroke="#000aff" d="M621.2 670.4h0M619.0 666.2h0"/>
<path stroke="#000fff" d="M621.6 661.2h0M620.5 668.7h0M619.7 663.4h0M622.8 660.6h0"/>
<path stroke="#0024ff" d="M639.6 674.4h0M637.2 677.3h0M622.0 661.9h0M626.8 674.7h0M631.7 676.8h0M621.5 662.5h0M634.8 677.5h0M639.3 674.7h0"/>
<path stroke="#0038ff" d="M622.1 662.6h0M621.3 668.2h0M630.9 676.5h0M635.0 676.6h0M620.9 665.0h0"/>
<path stroke="#004dff" d="M636.7 675.2h0"/>
<path stroke="#0061ff" d="M637.5 671.9h0M621.9 666.2h0"/>
<path stroke="#0075ff" d="M625.2 663.1h0M622.5 666.0h0M623.9 663.8h0"/>
<path stroke="#008aff" d="M634.3 674.6h0M624.7 670.6h0M624.0 664.3h0M636.0 673.5h0M623.6 664.6h0M635.5 673.8h0M634.2 674.8h0M635.7 673.5h0"/>
<path stroke="#009eff" d="M624.0 668.9h0M625.7 671.2h0"/>
<path stroke="#00b3ff" d="M626.4 663.8h0M630.0 673.8h0M630.9 674.1h0"/>
<path stroke="#00c7ff" d="M627.1 671.8h0"/>
<path stroke="#00dbff" d="M627.4 664.2h0M627.0 664.3h0"/>
<path stroke="#00f0ff" d="M625.2 666.1h0M634.9 670.5h0M634.7 669.3h0"/>
<path stroke="#05fffa" d="M627.5 671.4h0M626.9 670.6h0M633.9 672.2h0"/>
<path stroke="#1affe5" d="M625.5 666.6h0"/>
<path stroke="#2effd1" d="M625.8 667.1h0M625.9 668.4h0"/>
<path stroke="#57ffa8" d="M626.3 667.3h0M626.2 667.5h0M630.8 666.2h0"/>
<path stroke="#6bff94" d="M633.5 669.6h0"/>
<path stroke="#80ff80" d="M626.6 667.3h0M632.2 667.6h0"/>
<path stroke="#a8ff57" stroke-width="4.4" d="M628.5 666.3h0M627.7 666.6h0"/>
<path stroke="#bdff42" stroke-width="4.4" d="M628.3 670.0h0"/>
<path stroke="#faff05" stroke-width="4.4" d="M630.2 667.0h0M629.2 666.8h0"/>
<path stroke="#ffc700" stroke-width="4.4" d="M628.8 667.2h0"/>
<path stroke="#ffb300" stroke-width="4.4" d="M630.9 670.2h0M631.4 669.9h0"/>
<path stroke="#ff8a00" stroke-width="4.4" d="M631.3 668.9h0"/>
<path stroke="#ff6100" stroke-width="4.4" d="M630.8 669.7h0"/>
<path stroke="#fa0000" stroke-width="3.4" d="M630.0 669.3h0"/>
<path stroke="#e50000" stroke-width="3.4" d="M630.5 668.9h0"/>
</g>
<g stroke="#111" stroke-width="0.9">
<circle cx="547.9" cy="658.9" r="4.8" fill="#e6dc18"/>
<circle cx="544.3" cy="670.3" r="4.8" fill="#e6dc18"/>
<circle cx="554.3" cy="675" r="4.8" fill="#e6dc18"/>
<circle cx="558.6" cy="677.1" r="4.8" fill="#e6dc18"/>
<circle cx="549.3" cy="679.3" r="4.8" fill="#e6dc18"/>
<circle cx="563.6" cy="681.1" r="4.8" fill="#e6dc18"/>
<circle cx="551.4" cy="683.6" r="4.8" fill="#e6dc18"/>
<circle cx="560" cy="684.3" r="4.8" fill="#e6dc18"/>
<circle cx="554.3" cy="686.4" r="4.8" fill="#e6dc18"/>
<circle cx="557.1" cy="688.6" r="4.8" fill="#e6dc18"/>
</g><g fill="#a8a860" stroke="#6c6c10" stroke-width=".5">
<circle cx="547.9" cy="658.9" r="2.8"/>
<circle cx="544.3" cy="670.3" r="2.8"/>
<circle cx="554.3" cy="675" r="2.8"/>
<circle cx="558.6" cy="677.1" r="2.8"/>
<circle cx="549.3" cy="679.3" r="2.8"/>
<circle cx="563.6" cy="681.1" r="2.8"/>
<circle cx="551.4" cy="683.6" r="2.8"/>
<circle cx="560" cy="684.3" r="2.8"/>
<circle cx="554.3" cy="686.4" r="2.8"/>
<circle cx="557.1" cy="688.6" r="2.8"/>
</g>
<g shape-rendering="crispEdges">
<rect x="411.5" y="510.5" width="341" height="288" fill="none" stroke="#000" stroke-width="1"/>
</g>
<g font-size="11" fill="#000">
<text x="401.6" y="552" text-anchor="end">1</text>
<text x="401.6" y="614" text-anchor="end">0.5</text>
<text x="401.6" y="675" text-anchor="end">0</text>
<text x="401.6" y="736" text-anchor="end">-0.5</text>
<text x="401.6" y="797" text-anchor="end">-1</text>
<text x="437.5" y="820" text-anchor="middle">-2</text>
<text x="478.5" y="820" text-anchor="middle">-1.5</text>
<text x="520.5" y="820" text-anchor="middle">-1</text>
<text x="562.5" y="820" text-anchor="middle">-0.5</text>
<text x="603.5" y="820" text-anchor="middle">0</text>
<text x="645.5" y="820" text-anchor="middle">0.5</text>
<text x="686.5" y="820" text-anchor="middle">1</text>
<text x="728.5" y="820" text-anchor="middle">1.5</text>
</g>
<g font-size="12" font-weight="bold" fill="#000">
<text x="559.7" y="845" text-anchor="middle">t[1] (95.5%)</text>
<text transform="translate(365.2 672.3) rotate(-90)" text-anchor="middle">t[2] (2.55%)</text>
</g>
<g>
<rect x="914" y="85" width="178" height="731" fill="#ffc400"/>
<rect x="914" y="85" width="178" height="731" filter="url(#nz)"/>
<rect x="914" y="85" width="178" height="731" fill="url(#bgv)"/>
<rect x="914" y="85" width="178" height="731" fill="url(#bgh)"/>
<path d="M924 738h1v1h-1zM928 491h1v1h-1zM930 638h1v1h-1zM927 459h1v1h-1zM924 331h1v1h-1zM921 277h1v1h-1zM925 586h1v1h-1zM922 199h1v1h-1zM943 551h1v1h-1zM920 712h1v1h-1zM938 528h1v1h-1zM943 473h1v1h-1zM922 96h1v1h-1zM920 423h1v1h-1zM932 690h1v1h-1zM920 139h1v1h-1zM920 350h1v1h-1zM942 652h1v1h-1zM919 515h1v1h-1zM923 250h1v1h-1zM926 266h1v1h-1zM926 250h1v1h-1zM927 515h1v1h-1zM933 614h1v1h-1zM925 108h1v1h-1zM933 314h1v1h-1zM923 383h1v1h-1zM943 521h1v1h-1zM937 120h1v1h-1zM932 593h1v1h-1zM940 637h1v1h-1zM919 801h1v1h-1zM918 644h1v1h-1zM930 758h1v1h-1zM943 628h1v1h-1zM920 555h1v1h-1zM921 395h1v1h-1zM921 306h1v1h-1zM919 478h1v1h-1zM920 264h1v1h-1zM938 300h1v1h-1zM933 713h1v1h-1zM935 679h1v1h-1zM942 265h1v1h-1zM923 806h1v1h-1zM942 320h1v1h-1zM942 150h1v1h-1zM924 711h1v1h-1zM921 710h1v1h-1zM924 644h1v1h-1zM921 450h1v1h-1zM933 491h1v1h-1zM940 113h1v1h-1zM936 704h1v1h-1zM932 258h1v1h-1zM939 398h1v1h-1zM925 646h1v1h-1zM938 683h1v1h-1zM931 99h1v1h-1zM919 487h1v1h-1zM919 537h1v1h-1zM921 648h1v1h-1zM919 586h1v1h-1zM924 809h1v1h-1zM930 461h1v1h-1zM940 293h1v1h-1zM943 301h1v1h-1zM919 290h1v1h-1zM928 519h1v1h-1zM920 741h1v1h-1zM938 626h1v1h-1zM944 126h1v1h-1zM936 706h1v1h-1zM923 385h1v1h-1zM923 756h1v1h-1zM930 687h1v1h-1zM925 522h1v1h-1zM937 335h1v1h-1zM925 149h1v1h-1zM934 384h1v1h-1zM923 319h1v1h-1zM926 178h1v1h-1zM933 200h1v1h-1zM924 349h1v1h-1zM944 600h1v1h-1zM924 698h1v1h-1zM942 326h1v1h-1zM939 543h1v1h-1zM932 741h1v1h-1zM935 556h1v1h-1z" fill="#ea3c08" opacity=".75"/>
<defs><linearGradient id="p0" x1="1" y1="0" x2="0" y2="1"><stop offset="0" stop-color="#80f29c"/><stop offset="1" stop-color="#56f0c2"/></linearGradient><linearGradient id="p1" x1="0" y1="0.3" x2="0.75" y2="0.45"><stop offset="0" stop-color="#6ef0a6"/><stop offset="1" stop-color="#a4f672"/></linearGradient><linearGradient id="p2" x1="0.6" y1="0" x2="0.3" y2="1"><stop offset="0" stop-color="#62f0be"/><stop offset="1" stop-color="#48eed6"/></linearGradient><linearGradient id="p3" x1="0" y1="0" x2="0.6" y2="1"><stop offset="0" stop-color="#3aecec"/><stop offset="1" stop-color="#24e2fc"/></linearGradient><linearGradient id="p4" x1="0.8" y1="0" x2="0.3" y2="1"><stop offset="0" stop-color="#1a72f0"/><stop offset="1" stop-color="#0a3cde"/></linearGradient><linearGradient id="p5" x1="0" y1="0" x2="1" y2="0.6"><stop offset="0" stop-color="#42eede"/><stop offset="1" stop-color="#58f0c6"/></linearGradient><linearGradient id="p6" x1="0.6" y1="0" x2="0.3" y2="1"><stop offset="0" stop-color="#0a40e0"/><stop offset="1" stop-color="#1a76f0"/></linearGradient><linearGradient id="p7" x1="1" y1="0" x2="0" y2="1"><stop offset="0" stop-color="#6ef0aa"/><stop offset="1" stop-color="#54f0c8"/></linearGradient><linearGradient id="p8" x1="0.8" y1="0" x2="0.2" y2="1"><stop offset="0" stop-color="#1e7af0"/><stop offset="1" stop-color="#1054e6"/></linearGradient><linearGradient id="p9" x1="0.3" y1="0" x2="0.6" y2="1"><stop offset="0" stop-color="#0e4ee4"/><stop offset="1" stop-color="#1a7ef2"/></linearGradient><linearGradient id="p10" x1="0.5" y1="0" x2="0.5" y2="1"><stop offset="0" stop-color="#0e4ce4"/><stop offset="1" stop-color="#0836da"/></linearGradient><linearGradient id="p11" x1="0.7" y1="0" x2="0.3" y2="1"><stop offset="0" stop-color="#125ce8"/><stop offset="1" stop-color="#0a3ee0"/></linearGradient><linearGradient id="p12" x1="0.8" y1="0" x2="0.2" y2="1"><stop offset="0" stop-color="#2cdef8"/><stop offset="1" stop-color="#4aece2"/></linearGradient><linearGradient id="p13" x1="0" y1="0" x2="0.3" y2="1"><stop offset="0" stop-color="#4eeade"/><stop offset="1" stop-color="#3ce4ee"/></linearGradient><linearGradient id="p14" x1="1" y1="0" x2="0" y2="1"><stop offset="0" stop-color="#4aeade"/><stop offset="1" stop-color="#3ee6ea"/></linearGradient><linearGradient id="p15" x1="1" y1="0" x2="0" y2="1"><stop offset="0" stop-color="#36e0f2"/><stop offset="1" stop-color="#44e8e6"/></linearGradient><linearGradient id="p16" x1="0.6" y1="0" x2="0.3" y2="1"><stop offset="0" stop-color="#1c94f4"/><stop offset="1" stop-color="#1674ec"/></linearGradient><linearGradient id="p17" x1="0" y1="0" x2="0.8" y2="1"><stop offset="0" stop-color="#1674ec"/><stop offset="1" stop-color="#1c96f4"/></linearGradient><linearGradient id="p18" x1="0.5" y1="0" x2="0.4" y2="1"><stop offset="0" stop-color="#188af0"/><stop offset="1" stop-color="#20a2f6"/></linearGradient></defs>
<polygon points="966.6,115.7 1017.6,128.5 1016.9,173.2 961.0,158.6 964.0,131.0" fill="url(#p0)"/>
<polygon points="1031.1,117.8 1050.0,112.5 1068.7,110.1 1072.5,120.8 1073.8,146.4 1071.7,159.6 1035.0,159.1 1035.5,138.7" fill="url(#p1)"/>
<polygon points="962.7,171.9 1007.4,178.3 1002.3,211.4 980.0,213.0 960.2,217.8" fill="url(#p2)"/>
<polygon points="1023.2,179.0 1070.4,171.1 1069.9,200.0 1024.8,207.6" fill="url(#p3)"/>
<polygon points="976.8,240.3 1006.1,248.5 1005.4,291.8 964.0,275.3" fill="url(#p4)"/>
<polygon points="1015.1,245.9 1061.0,239.5 1071.2,279.1 1029.1,288.0" fill="url(#p5)"/>
<polygon points="963.5,295.8 1008.7,304.8 1010.0,349.4 962.2,361.7" fill="url(#p6)"/>
<polygon points="1020.2,300.4 1060.5,298.6 1069.9,338.2 1020.2,354.0" fill="url(#p7)"/>
<polygon points="967.8,394.1 1010.5,394.9 999.7,433.9 966.1,426.8" fill="url(#p8)"/>
<polygon points="1021.4,397.9 1061.0,395.4 1067.4,423.4 1027.8,416.5" fill="url(#p9)"/>
<polygon points="958.4,449.7 1010.5,447.2 1011.2,482.9 959.4,481.6" fill="url(#p10)"/>
<polygon points="1031.7,436.2 1077.1,440.3 1073.8,476.5 1022.7,487.2 1018.9,481.6" fill="url(#p11)"/>
<polygon points="978.1,510.9 1010.5,555.1 986.5,567.8 962.0,547.4" fill="url(#p12)"/>
<polygon points="1015.1,536.7 1065.6,538.5 1053.3,576.8 1015.1,571.7" fill="url(#p13)"/>
<polygon points="958.4,599.7 1010.0,586.2 1009.4,607.4 974.2,636.8 969.1,625.3" fill="url(#p14)"/>
<polygon points="1034.2,585.7 1072.0,588.3 1054.6,632.9 1018.9,629.1" fill="url(#p15)"/>
<polygon points="964.1,656.1 997.9,664.2 977.1,736.2 949.8,718.0 958.1,676.4" fill="url(#p16)"/>
<polygon points="1011.7,662.1 1063.6,658.2 1061.6,686.8 1053.8,710.2 1019.5,718.0 1017.4,689.4" fill="url(#p17)"/>
<polygon points="991.4,717.5 1009.1,714.1 1018.7,744.0 1027.0,768.7 986.2,768.7" fill="url(#p18)"/>
<g fill="none" stroke-linecap="round">
<path d="M965 276L1005 291.5" stroke="#0a38d0" stroke-width="1.6"/>
<path d="M968 298L1008 307" stroke="#0a40d4" stroke-width="1.4"/>
<path d="M960 481L1011 482.5" stroke="#0a3ad0" stroke-width="1.2"/>
<path d="M1019 484L1073 474" stroke="#0a3cd2" stroke-width="1"/>
<path d="M978 520L994 545 1004 553" stroke="#2a90e8" stroke-width="1.2"/>
<path d="M1018 547H1062M1018 552H1060" stroke="#6ee8c0" stroke-width="1.4"/>
<path d="M1062 589L1045 628" stroke="#2a86e6" stroke-width="1.6"/><path d="M1053 592L1040 626" stroke="#40b8ee" stroke-width="1"/>
<path d="M996.5 667L977.8 734" stroke="#1260dc" stroke-width="1.3"/>
<path d="M1012.4 664L1017.8 689 1019.8 716" stroke="#1464e0" stroke-width="1"/>
<path d="M1008.6 716L1018.2 744 1021 752" stroke="#1260dc" stroke-width="1.3"/>
</g>
<polygon points="985.7,597.9 991.4,598.6 997,605 992,615.6 985,615.2 984,605" fill="#78e488" stroke="#1c2a1c" stroke-width="1.1"/>
</g>
</svg></body></html>
